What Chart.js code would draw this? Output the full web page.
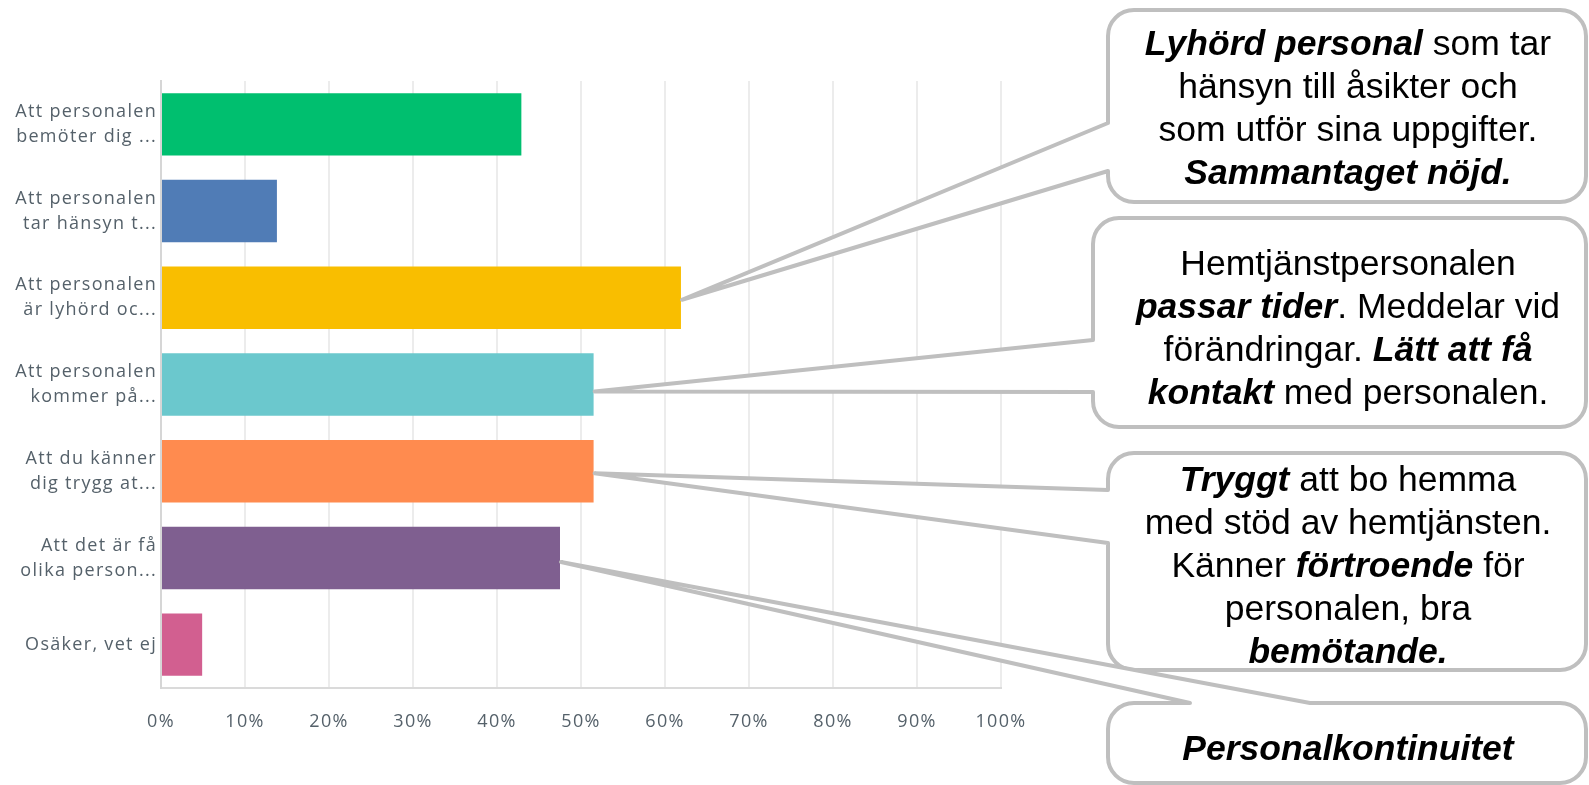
<!DOCTYPE html>
<html>
<head>
<meta charset="utf-8">
<script src="https://cdn.jsdelivr.net/npm/chart.js@4"></script>
<style>
  html, body { margin: 0; padding: 0; background: #fff; }
  #chart { display: block; }
</style>
</head>
<body>
<canvas id="chart" width="1589" height="785"></canvas>
<script>
// survey answers (truncated as in the source)
const categories = [
    ['Att personalen', 'bemöter dig ...'],
    ['Att personalen', 'tar hänsyn t...'],
    ['Att personalen', 'är lyhörd oc...'],
    ['Att personalen', 'kommer på...'],
    ['Att du känner', 'dig trygg at...'],
    ['Att det är få', 'olika person...'],
    'Osäker, vet ej'
];
const percentages = [42.9, 13.8, 61.9, 51.5, 51.5, 47.5, 4.9];
const barColors = ['#00bf6f', '#507cb6', '#f9be00', '#6bc8cd', '#ff8b4f', '#7f5f90', '#d25f90'];
const xMin = 0;
const xMax = 100;
const xStep = 10;

// callout texts, each line a list of [text, emphasised]
const calloutTexts = [
    [
        [['Lyhörd personal', true], [' som tar', false]],
        [['hänsyn till åsikter och', false]],
        [['som utför sina uppgifter.', false]],
        [['Sammantaget nöjd.', true]]
    ],
    [
        [['Hemtjänstpersonalen', false]],
        [['passar tider', true], ['. Meddelar vid', false]],
        [['förändringar. ', false], ['Lätt att få', true]],
        [['kontakt', true], [' med personalen.', false]]
    ],
    [
        [['Tryggt', true], [' att bo hemma', false]],
        [['med stöd av hemtjänsten.', false]],
        [['Känner ', false], ['förtroende', true], [' för', false]],
        [['personalen, bra', false]],
        [['bemötande.', true]]
    ],
    [
        [['Personalkontinuitet', true]]
    ]
];
// which bar each callout points at
const calloutBars = [2, 3, 4, 5];

// box layout (pixels)
const calloutBoxes = [
    { x: 1108, y: 10, w: 478, h: 192, side: 'left', a: 123, b: 171, dy: 2, textY: 45 },
    { x: 1093, y: 218, w: 493, h: 209, side: 'left', a: 340, b: 392, dy: 7, textY: 265 },
    { x: 1108, y: 453, w: 478, h: 217, side: 'left', a: 490, b: 543, dy: 2, textY: 481 },
    { x: 1108, y: 703, w: 478, h: 80, side: 'top', a: 1190, b: 1310, dy: 4, textY: 750 }
];
const textCenterX = 1348;
const lineGap = 43;
const boxFont = '"Liberation Sans", Arial, sans-serif';
const boxFontSize = 35.5;

function calloutPath(ctx, box, tip) {
    const { x, y, w, h } = box;
    const r = 26;
    ctx.beginPath();
    ctx.moveTo(x + r, y);
    if (box.side === 'top') {
        ctx.lineTo(box.a, y);
        ctx.lineTo(tip.x, tip.y);
        ctx.lineTo(box.b, y);
    }
    ctx.lineTo(x + w - r, y);
    ctx.arcTo(x + w, y, x + w, y + r, r);
    ctx.lineTo(x + w, y + h - r);
    ctx.arcTo(x + w, y + h, x + w - r, y + h, r);
    ctx.lineTo(x + r, y + h);
    ctx.arcTo(x, y + h, x, y + h - r, r);
    if (box.side === 'left') {
        ctx.lineTo(x, box.b);
        ctx.lineTo(tip.x, tip.y);
        ctx.lineTo(x, box.a);
    }
    ctx.lineTo(x, y + r);
    ctx.arcTo(x, y, x + r, y, r);
    ctx.closePath();
}

function drawRichLine(ctx, runs, cx, cy) {
    const fontFor = bold => (bold ? 'italic bold ' : '') + boxFontSize + 'px ' + boxFont;
    let total = 0;
    runs.forEach(([t, bold]) => {
        ctx.font = fontFor(bold);
        total += ctx.measureText(t).width;
    });
    let x = cx - total / 2;
    runs.forEach(([t, bold]) => {
        ctx.font = fontFor(bold);
        ctx.fillText(t, x, cy);
        x += ctx.measureText(t).width;
    });
}

const calloutPlugin = {
    id: 'callouts',
    beforeDraw(chart) {
        // the survey font is wide, spread the axis text a little
        chart.ctx.letterSpacing = '1.3px';
    },
    afterDraw(chart) {
        const ctx = chart.ctx;
        const bars = chart.getDatasetMeta(0).data;
        ctx.save();
        ctx.letterSpacing = '0px';
        calloutBoxes.forEach((box, i) => {
            const bar = bars[calloutBars[i]];
            const tip = { x: bar.x + 1, y: bar.y + box.dy };
            calloutPath(ctx, box, tip);
            ctx.fillStyle = '#ffffff';
            ctx.fill();
            ctx.lineWidth = 4;
            ctx.lineJoin = 'round';
            ctx.strokeStyle = '#bfbfbf';
            ctx.stroke();

            ctx.fillStyle = '#000000';
            ctx.textBaseline = 'middle';
            ctx.textAlign = 'left';
            calloutTexts[i].forEach((line, j) => {
                drawRichLine(ctx, line, textCenterX, box.textY + j * lineGap);
            });
        });
        ctx.restore();
    }
};

const axisText = '#55616a';

new Chart(document.getElementById('chart'), {
    type: 'bar',
    data: {
        labels: categories,
        datasets: [{
            data: percentages,
            backgroundColor: barColors,
            borderWidth: 0,
            barPercentage: 0.72,
            categoryPercentage: 1.0
        }]
    },
    options: {
        indexAxis: 'y',
        responsive: false,
        animation: false,
        layout: {
            padding: { left: 0, right: 588, top: 81, bottom: 0 }
        },
        plugins: {
            legend: { display: false },
            tooltip: { enabled: false }
        },
        scales: {
            x: {
                min: xMin,
                max: xMax,
                afterFit: scale => { scale.height = 97; },
                grid: { color: '#ececec', lineWidth: 2, drawTicks: false },
                border: { display: true, color: '#dadada', width: 2 },
                ticks: {
                    stepSize: xStep,
                    padding: 23,
                    color: axisText,
                    font: { family: '"Open Sans", sans-serif', size: 18 },
                    callback: v => v + '%'
                }
            },
            y: {
                afterFit: scale => { scale.width = 161; },
                grid: { display: false, tickLength: 0 },
                border: { display: true, color: '#d6d6d6', width: 2 },
                ticks: {
                    padding: 4,
                    color: axisText,
                    font: { family: '"Open Sans", sans-serif', size: 18, lineHeight: 1.39 }
                }
            }
        }
    },
    plugins: [calloutPlugin]
});
</script>
</body>
</html>
